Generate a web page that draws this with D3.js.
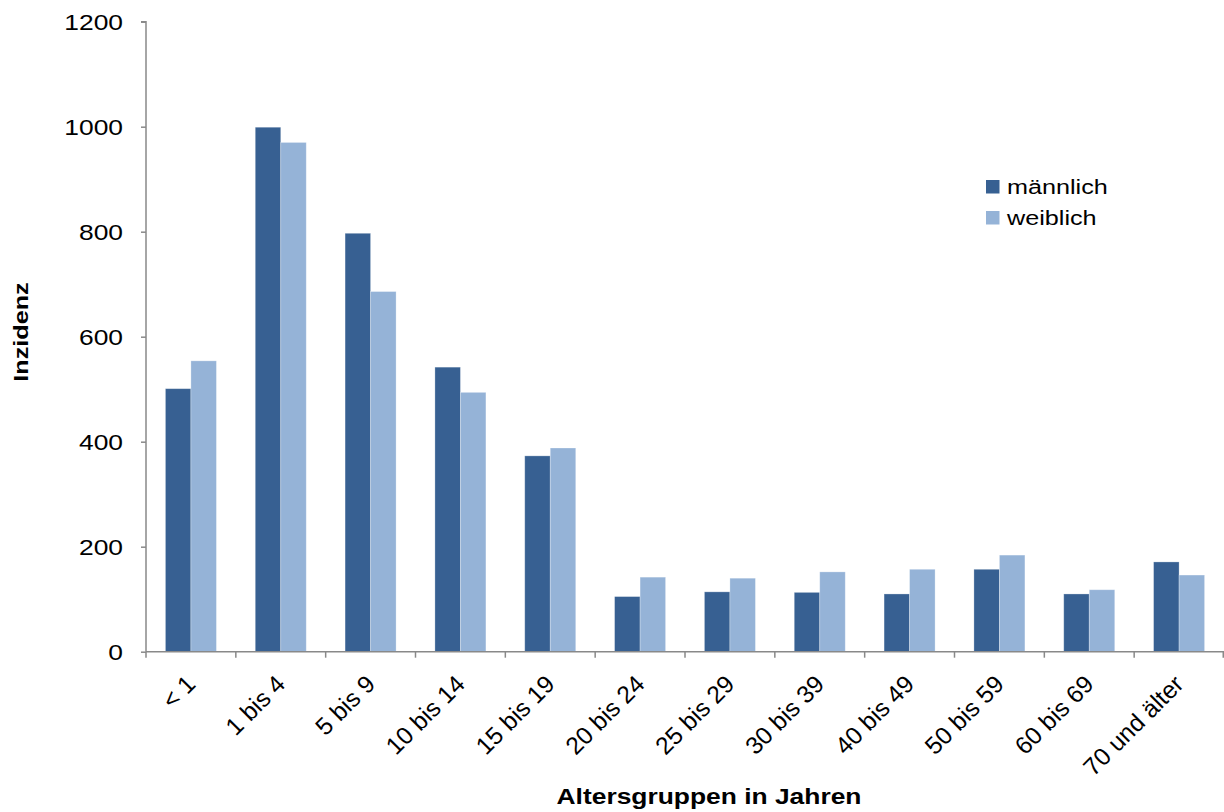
<!DOCTYPE html>
<html>
<head>
<meta charset="utf-8">
<script src="https://cdn.jsdelivr.net/npm/d3@7"></script>
<style>
  html, body { margin: 0; padding: 0; background: #fff; }
  svg { display: block; font-family: "Liberation Sans", Arial, sans-serif; }
</style>
</head>
<body>
<svg id="chart" width="1224" height="812"></svg>
<script>
// Age groups (years)
const categories = ["< 1", "1 bis 4", "5 bis 9", "10 bis 14", "15 bis 19", "20 bis 24",
  "25 bis 29", "30 bis 39", "40 bis 49", "50 bis 59", "60 bis 69", "70 und älter"];
// Incidence per group
const maleValues   = [501, 999, 797, 542, 373, 105, 114, 113, 110, 157, 110, 171];
const femaleValues = [554, 970, 686, 494, 388, 142, 140, 152, 157, 184, 118, 146];
const seriesNames  = ["männlich", "weiblich"];
const yTicks       = [0, 200, 400, 600, 800, 1000, 1200];

const colors = ["#376092", "#95b3d7"];
const sx = 1.2; // horizontal glyph widening used by the horizontal labels

const svg = d3.select("#chart");
const plotLeft = 146, plotRight = 1224, plotTop = 21.7, plotBottom = 651.7;

const x = d3.scaleBand().domain(categories).range([plotLeft, plotRight]).padding(0);
const y = d3.scaleLinear().domain([0, 1200]).range([plotBottom, plotTop]);
const barW = 25.5;

const series = [maleValues, femaleValues];

// Bars
series.forEach((vals, si) => {
  svg.append("g")
    .selectAll("rect")
    .data(categories.map((c, i) => ({ c, v: vals[i] })))
    .join("rect")
    .attr("x", d => x(d.c) + x.bandwidth() / 2 - barW + si * barW)
    .attr("y", d => y(d.v))
    .attr("width", barW)
    .attr("height", d => plotBottom - y(d.v))
    .attr("fill", colors[si])
    .attr("stroke", "#ffffff")
    .attr("stroke-opacity", 0.35)
    .attr("stroke-width", 0.8);
});

const axisColor = "#898989";

// Y axis
const yAxis = svg.append("g").attr("transform", `translate(${plotLeft},0)`)
  .call(d3.axisLeft(y).tickValues(yTicks).tickSize(5).tickFormat(""));
yAxis.select(".domain").attr("stroke", axisColor).attr("stroke-width", 1.5)
  .attr("d", `M-5,${plotTop}H0V${plotBottom}`);
yAxis.selectAll(".tick line").attr("stroke", axisColor).attr("stroke-width", 1.5);

svg.append("g").selectAll("text")
  .data(yTicks)
  .join("text")
  .attr("transform", d => `translate(123,${y(d) + 7.8}) scale(${sx},1)`)
  .attr("text-anchor", "end")
  .attr("font-size", 22)
  .attr("fill", "#000")
  .text(d => d);

// X axis
const xAxis = svg.append("g").attr("transform", `translate(0,${plotBottom})`)
  .call(d3.axisBottom(x).tickSize(0).tickFormat(""));
xAxis.select(".domain").attr("stroke", axisColor).attr("stroke-width", 1.5)
  .attr("d", `M${plotLeft},0H${plotRight}`);
xAxis.selectAll(".tick").remove();

const boundaries = categories.map(c => x(c)).concat([plotRight - 0.75]);
xAxis.selectAll("line.sep")
  .data(boundaries)
  .join("line")
  .attr("class", "sep")
  .attr("x1", d => d).attr("x2", d => d)
  .attr("y1", 0).attr("y2", 6)
  .attr("stroke", axisColor).attr("stroke-width", 1.5);

// Category labels, rotated
svg.append("g").selectAll("text")
  .data(categories)
  .join("text")
  .attr("transform", d => `translate(${x(d) + x.bandwidth() / 2 + 6},${plotBottom + 34}) rotate(-45)`)
  .attr("text-anchor", "end")
  .attr("font-size", 24.5)
  .attr("fill", "#000")
  .text(d => d);

// Axis titles
svg.append("text")
  .attr("transform", `translate(709,804) scale(${sx},1)`)
  .attr("text-anchor", "middle")
  .attr("font-size", 22)
  .attr("font-weight", "bold")
  .text("Altersgruppen in Jahren");

svg.append("text")
  .attr("transform", `translate(28,332) rotate(-90) scale(${sx},1)`)
  .attr("text-anchor", "middle")
  .attr("font-size", 21)
  .attr("font-weight", "bold")
  .text("Inzidenz");

// Legend
const legend = svg.append("g").selectAll("g")
  .data(seriesNames)
  .join("g")
  .attr("transform", (d, i) => `translate(986,${180 + i * 31})`);
legend.append("rect")
  .attr("width", 13.5).attr("height", 13.5)
  .attr("fill", (d, i) => colors[i]);
legend.append("text")
  .attr("transform", `translate(21,14) scale(${sx},1)`)
  .attr("font-size", 21)
  .attr("fill", "#000")
  .text(d => d);
</script>
</body>
</html>
